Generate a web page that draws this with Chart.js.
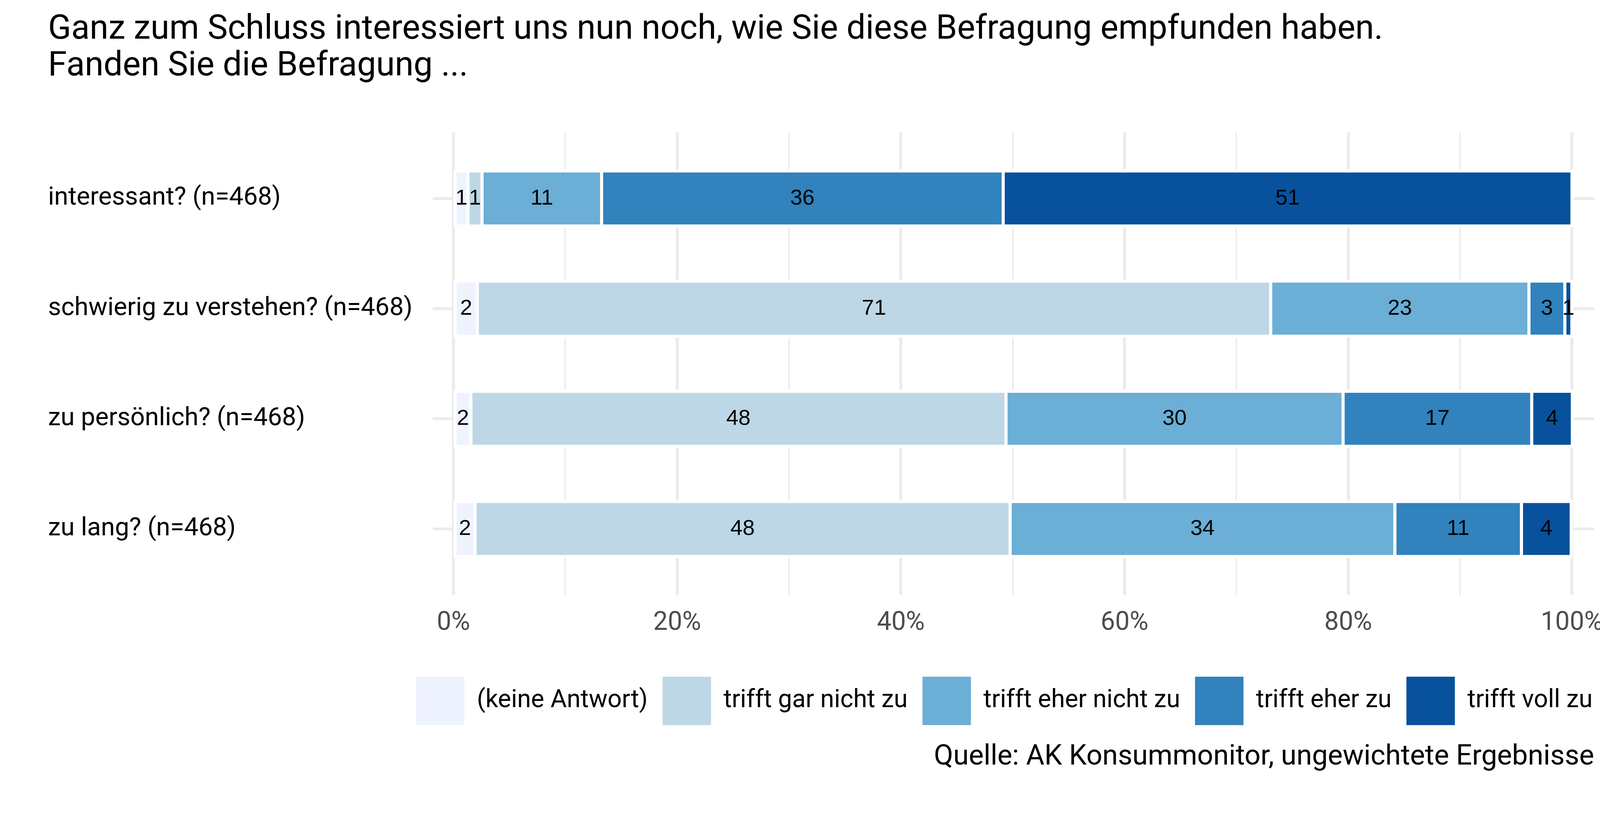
<!DOCTYPE html>
<html lang="de">
<head>
<meta charset="utf-8">
<title>Befragung</title>
<script src="https://cdn.jsdelivr.net/npm/chart.js@4.4.1/dist/chart.umd.min.js"></script>
<style>
  html, body { margin: 0; padding: 0; background: #fff; }
  #wrap { width: 4200px; height: 2100px; position: relative; }
</style>
</head>
<body>
<div id="wrap"><canvas id="chart"></canvas></div>
<script>
// categories (top to bottom)
const categories = [
    'interessant? (n=468)',
    'schwierig zu verstehen? (n=468)',
    'zu persönlich? (n=468)',
    'zu lang? (n=468)'
];

// answer levels, in stacking order
const seriesNames = ['(keine Antwort)', 'trifft gar nicht zu', 'trifft eher nicht zu', 'trifft eher zu', 'trifft voll zu'];
const seriesColors = ['#EFF3FF', '#BDD7E7', '#6BAED6', '#3182BD', '#08519C'];

// shares in percent, one value per category
const keineAntwort   = [1.29, 2.13, 1.55, 1.92];
const garNichtZu     = [1.26, 70.94, 47.85, 47.85];
const eherNichtZu    = [10.69, 23.09, 30.14, 34.40];
const eherZu         = [35.91, 3.21, 16.87, 11.32];
const vollZu         = [50.86, 0.63, 3.63, 4.45];

const xTicks = [0, 10, 20, 30, 40, 50, 60, 70, 80, 90, 100];

const seriesValues = [keineAntwort, garNichtZu, eherNichtZu, eherZu, vollZu];

const barLabels = {
    id: 'barLabels',
    afterDatasetsDraw(chart) {
        const ctx = chart.ctx;
        ctx.save();
        ctx.font = '56px "Liberation Sans", Arial, sans-serif';
        ctx.fillStyle = '#000000';
        ctx.textAlign = 'center';
        ctx.textBaseline = 'middle';
        chart.data.datasets.forEach(function(ds, d) {
            chart.getDatasetMeta(d).data.forEach(function(bar, i) {
                const p = bar.getProps(['x', 'y', 'base'], true);
                ctx.fillText(String(Math.round(ds.data[i].x)), (p.x + p.base) / 2, p.y);
            });
        });
        ctx.restore();
    }
};

// move the legend row so it ends flush with the caption
const legendNudge = {
    id: 'legendNudge',
    afterLayout(chart) {
        const dx = 34;
        chart.legend.left += dx;
        chart.legend.right += dx;
    }
};

const ctx = document.getElementById('chart').getContext('2d');
const chart = new Chart(ctx, {
    type: 'bar',
    data: {
        datasets: seriesNames.map(function(name, s) {
            return {
                label: name,
                data: categories.map(function(c, i) { return {x: seriesValues[s][i], y: i}; }),
                backgroundColor: seriesColors[s],
                borderColor: '#ffffff',
                borderWidth: 8,
                borderSkipped: false,
                inflateAmount: 4,
                barPercentage: 0.5,
                categoryPercentage: 1
            };
        })
    },
    options: {
        indexAxis: 'y',
        responsive: true,
        maintainAspectRatio: false,
        devicePixelRatio: 1,
        animation: false,
        events: [],
        layout: {
            padding: {left: 123, right: 119, top: 0, bottom: 0}
        },
        scales: {
            x: {
                type: 'linear',
                stacked: true,
                min: -1.85,
                max: 101.99,
                afterBuildTicks: function(scale) {
                    scale.ticks = xTicks.map(function(v) { return {value: v}; });
                },
                afterFit: function(scale) { scale.height = 171; },
                grid: {
                    color: '#EBEBEB',
                    lineWidth: function(c) { return c.tick && c.tick.value % 20 === 0 ? 7.7 : 3.8; },
                    drawTicks: false
                },
                border: {display: false},
                ticks: {
                    autoSkip: false,
                    maxRotation: 0,
                    padding: 33,
                    color: '#4D4D4D',
                    font: {family: 'Roboto', size: 66},
                    callback: function(v) { return v % 20 === 0 ? v + '%' : ''; }
                }
            },
            y: {
                type: 'linear',
                stacked: true,
                reverse: true,
                offset: false,
                min: -0.6,
                max: 3.6,
                afterBuildTicks: function(scale) {
                    scale.ticks = categories.map(function(c, i) { return {value: i}; });
                },
                afterFit: function(scale) { scale.width = 985; },
                grid: {
                    color: '#EBEBEB',
                    lineWidth: 7,
                    offset: false,
                    drawTicks: false
                },
                border: {display: false},
                ticks: {
                    autoSkip: false,
                    crossAlign: 'far',
                    color: '#000000',
                    font: {family: 'Roboto', size: 65},
                    callback: function(v) { return categories[v]; }
                }
            }
        },
        plugins: {
            title: {
                display: true,
                align: 'start',
                text: [
                    'Ganz zum Schluss interessiert uns nun noch, wie Sie diese Befragung empfunden haben.',
                    'Fanden Sie die Befragung ...'
                ],
                color: '#000000',
                font: {family: 'Roboto', size: 87, weight: 'normal', lineHeight: 1.08},
                padding: {top: 30, bottom: 121}
            },
            subtitle: {
                display: true,
                position: 'bottom',
                align: 'end',
                text: 'Quelle: AK Konsummonitor, ungewichtete Ergebnisse',
                color: '#000000',
                font: {family: 'Roboto', size: 72, weight: 'normal', lineHeight: 1.2},
                padding: {top: 30, bottom: 116.6}
            },
            legend: {
                position: 'bottom',
                align: 'end',
                labels: {
                    boxWidth: 124,
                    boxHeight: 124,
                    padding: 38,
                    color: '#000000',
                    font: {family: 'Roboto', size: 64},
                    generateLabels: function(chart) {
                        return Chart.defaults.plugins.legend.labels.generateLabels(chart).map(function(item) {
                            item.lineWidth = 0;
                            return item;
                        });
                    }
                }
            },
            tooltip: {enabled: false}
        }
    },
    plugins: [barLabels, legendNudge]
});
</script>
</body>
</html>
